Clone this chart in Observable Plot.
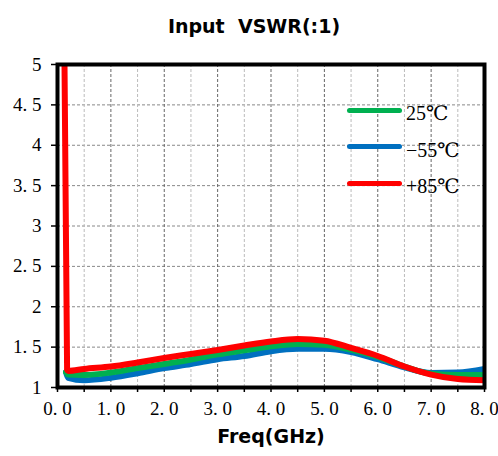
<!DOCTYPE html>
<html>
<head>
<meta charset="utf-8">
<script src="https://cdn.jsdelivr.net/npm/d3@7"></script>
<script src="https://cdn.jsdelivr.net/npm/@observablehq/plot@0.6"></script>
<style>
  body { margin: 0; background: #fff; }
  #wrap { position: relative; width: 498px; height: 456px; overflow: hidden; }
  #title { position: absolute; left: 0; top: 14px; width: 508px; text-align: center;
           font: bold 19px "DejaVu Sans", sans-serif; line-height: 24px; color: #000; }
  #chart { position: absolute; left: 0; top: 50px; }
  #legend { position: absolute; left: 347px; top: 92px; }
  .row { display: flex; align-items: center; height: 36.5px; }
  .sw { width: 55px; height: 5px; border-radius: 3px; }
  .lab { margin-left: 4px; margin-top: 6px; font-size: 20px; color: #000;
         font-family: "Liberation Serif", "DejaVu Serif", "Noto Sans CJK SC", serif; }
</style>
</head>
<body>
<div id="wrap">
  <div id="title">Input&nbsp;&nbsp;VSWR(:1)</div>
  <div id="chart"></div>
  <div id="legend"></div>
</div>
<script>
// Frequency sweep (GHz) shared by the three temperature curves
const freqs = [0.2, 0.5, 1.0, 1.5, 2.0, 2.5, 3.0, 3.5, 4.0, 4.5, 5.0, 5.5, 6.0, 6.5, 7.0, 7.5, 8.0];

// Input VSWR at each temperature
const vswr25  = [1.16, 1.155, 1.185, 1.24, 1.29, 1.345, 1.41, 1.46, 1.51, 1.54, 1.53, 1.47, 1.38, 1.26, 1.17, 1.155, 1.155];
const vswrM55 = [1.12, 1.09, 1.12, 1.175, 1.24, 1.29, 1.35, 1.39, 1.45, 1.48, 1.48, 1.44, 1.35, 1.25, 1.18, 1.185, 1.23];
const vswrP85 = [1.205, 1.23, 1.26, 1.31, 1.365, 1.415, 1.465, 1.52, 1.57, 1.60, 1.58, 1.49, 1.39, 1.26, 1.16, 1.105, 1.09];

// Low-frequency start of each sweep (band edge)
const startFreqM55 = [0.16], startM55 = [1.19];
const startFreq25  = [0.16], start25  = [1.19];
const startFreqP85 = [0.13, 0.18], startP85 = [5.1, 1.22];

const seriesNames  = ["25℃", "−55℃", "+85℃"];
const seriesColors = ["#00B050", "#0070C0", "#FF0000"];

const xTicks = d3.range(0, 8.001, 0.5);
const xTickLabels = ["0. 0", "1. 0", "2. 0", "3. 0", "4. 0", "5. 0", "6. 0", "7. 0", "8. 0"];
const yTicks = [1, 1.5, 2, 2.5, 3, 3.5, 4, 4.5, 5];
const yTickLabels = ["1", "1. 5", "2", "2. 5", "3", "3. 5", "4", "4. 5", "5"];

const tickFont = "Liberation Serif, DejaVu Serif, serif";

function rows(fs, vs, name) {
  return fs.map((f, i) => ({freq: f, vswr: vs[i], series: name}));
}
const data = {
  "−55℃": rows(startFreqM55.concat(freqs), startM55.concat(vswrM55), "−55℃"),
  "25℃":  rows(startFreq25.concat(freqs),  start25.concat(vswr25),   "25℃"),
  "+85℃": rows(startFreqP85.concat(freqs), startP85.concat(vswrP85), "+85℃")
};
const colorOf = Object.fromEntries(seriesNames.map((n, i) => [n, seriesColors[i]]));

const drawOrder = ["−55℃", "25℃", "+85℃"];

const chart = Plot.plot({
  width: 498,
  height: 406,
  marginLeft: 57,
  marginRight: 14,
  marginTop: 14,
  marginBottom: 69,
  style: {fontSize: "19px", color: "#000", background: "transparent"},
  x: {domain: [0, 8]},
  y: {domain: [1, 5]},
  marks: [
    Plot.gridY(yTicks.slice(1, -1), {stroke: "#888", strokeOpacity: 1, strokeWidth: 1, strokeDasharray: "3,2"}),
    Plot.gridX(xTicks.filter(d => !Number.isInteger(d)), {stroke: "#bbb", strokeOpacity: 1, strokeWidth: 1, strokeDasharray: "3,2"}),
    Plot.gridX(xTicks.filter(d => Number.isInteger(d) && d > 0 && d < 8), {stroke: "#666", strokeOpacity: 1, strokeWidth: 1, strokeDasharray: "3,2"}),
    ...drawOrder.map(name => Plot.line(data[name], {
      x: "freq", y: "vswr", stroke: colorOf[name], strokeWidth: 6,
      curve: "monotone-x", strokeLinecap: "round", strokeLinejoin: "round", clip: true
    })),
    Plot.axisY({ticks: yTicks, tickFormat: (d, i) => yTickLabels[i], tickSize: 6, tickPadding: 10,
                strokeWidth: 1.5, label: null, fontSize: 19, fontFamily: tickFont}),
    Plot.axisX({ticks: xTicks, tickFormat: d => Number.isInteger(d) ? xTickLabels[d] : "",
                tickSize: 5, tickPadding: 9, strokeWidth: 1.5, label: null, fontSize: 19, fontFamily: tickFont}),
    Plot.frame({stroke: "#000", strokeWidth: 4}),
    Plot.text(["Freq(GHz)"], {frameAnchor: "bottom", dy: 55, fontSize: 19, fontWeight: "bold",
                              fontFamily: "DejaVu Sans, sans-serif", fill: "#000"})
  ]
});
document.getElementById("chart").appendChild(chart);

// Legend: one swatch per temperature
const legend = document.getElementById("legend");
seriesNames.forEach((name, i) => {
  const row = document.createElement("div");
  row.className = "row";
  const sw = document.createElement("div");
  sw.className = "sw";
  sw.style.background = seriesColors[i];
  const lab = document.createElement("span");
  lab.className = "lab";
  lab.textContent = name;
  row.appendChild(sw);
  row.appendChild(lab);
  legend.appendChild(row);
});
</script>
</body>
</html>
